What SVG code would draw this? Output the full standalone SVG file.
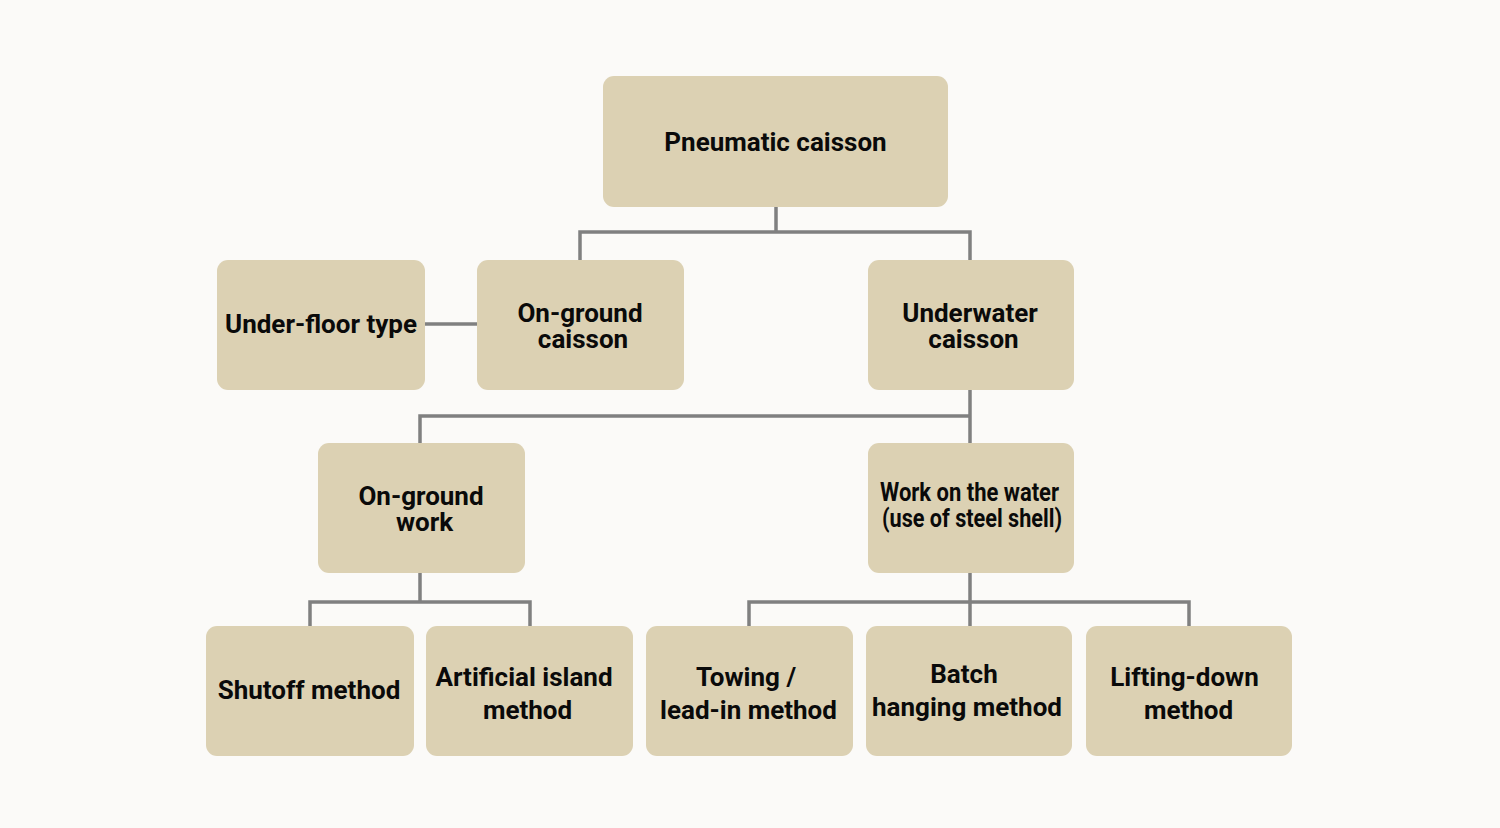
<svg xmlns="http://www.w3.org/2000/svg" width="1500" height="828" viewBox="0 0 1500 828">
<style>
.bg{fill:#fbfaf8}
.box{fill:#dcd1b3}
.t{font-family:Roboto,"Liberation Sans",sans-serif;font-weight:bold;font-size:26px;fill:#0a0a0a;text-anchor:middle}
.c{fill:none;stroke:#808080;stroke-width:3.5}
</style>
<rect class="bg" x="0" y="0" width="1500" height="828"/>
<g id="connectors">
<path class="c" d="M776 207V232M580 260V232H970V260"/>
<path class="c" d="M425 324H477"/>
<path class="c" d="M970 390V443M420 443V416H970"/>
<path class="c" d="M420 573V602M310 626V602H530V626"/>
<path class="c" d="M970 573V626M749 626V602H1189V626"/>
</g>
<g id="n-pneumatic"><rect class="box" x="603" y="76" width="345" height="131" rx="11"/><text class="t" x="775.5" y="150.5">Pneumatic caisson</text></g>
<g id="n-underfloor"><rect class="box" x="217" y="260" width="208" height="130" rx="11"/><text class="t" x="321" y="332.5">Under-floor type</text></g>
<g id="n-ongroundcaisson"><rect class="box" x="477" y="260" width="207" height="130" rx="11"/><text class="t" x="580" y="321.5">On-ground</text><text class="t" x="583" y="347.5">caisson</text></g>
<g id="n-underwater"><rect class="box" x="868" y="260" width="206" height="130" rx="11"/><text class="t" x="970" y="321.5">Underwater</text><text class="t" x="973.5" y="347.5">caisson</text></g>
<g id="n-ongroundwork"><rect class="box" x="318" y="443" width="207" height="130" rx="11"/><text class="t" x="421" y="504.5">On-ground</text><text class="t" x="424.5" y="530.5">work</text></g>
<g id="n-water"><rect class="box" x="868" y="443" width="206" height="130" rx="11"/><text class="t" x="969.5" y="500.5" textLength="179" lengthAdjust="spacingAndGlyphs">Work on the water</text><text class="t" x="972" y="526.5" textLength="180" lengthAdjust="spacingAndGlyphs">(use of steel shell)</text></g>
<g id="n-shutoff"><rect class="box" x="206" y="626" width="208" height="130" rx="11"/><text class="t" x="309" y="698.5">Shutoff method</text></g>
<g id="n-artificial"><rect class="box" x="426" y="626" width="207" height="130" rx="11"/><text class="t" x="524" y="685.5">Artificial island</text><text class="t" x="527.5" y="718.5">method</text></g>
<g id="n-towing"><rect class="box" x="646" y="626" width="207" height="130" rx="11"/><text class="t" x="746" y="685.5">Towing /</text><text class="t" x="748.5" y="718.5">lead-in method</text></g>
<g id="n-batch"><rect class="box" x="866" y="626" width="206" height="130" rx="11"/><text class="t" x="964" y="682.5">Batch</text><text class="t" x="967" y="715.5">hanging method</text></g>
<g id="n-lifting"><rect class="box" x="1086" y="626" width="206" height="130" rx="11"/><text class="t" x="1184.5" y="685.5">Lifting-down</text><text class="t" x="1188.5" y="718.5">method</text></g>
</svg>
